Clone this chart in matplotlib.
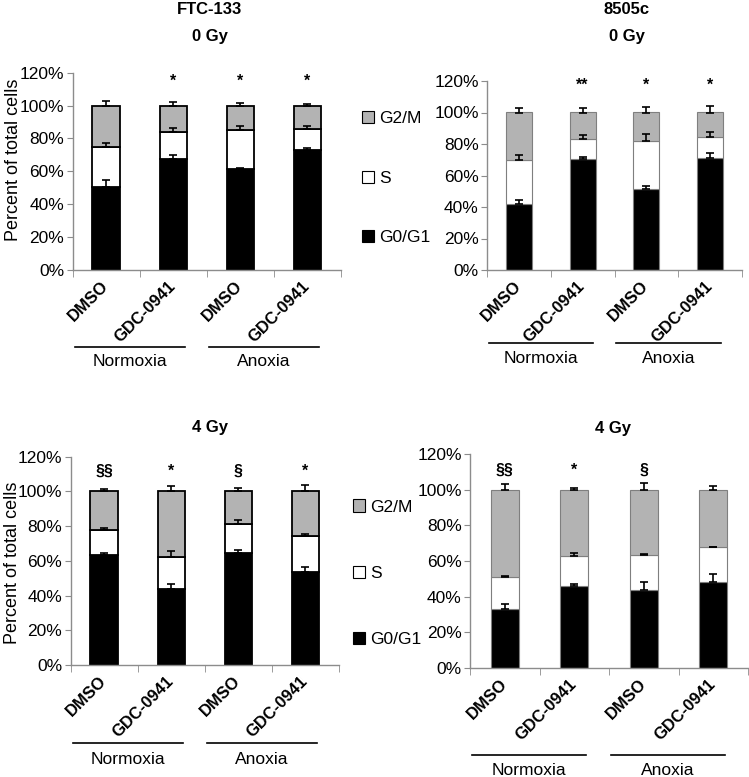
import numpy as np
import matplotlib.pyplot as plt
from matplotlib.patches import Patch
from matplotlib.transforms import blended_transform_factory

plt.rcParams['font.family'] = ['Liberation Sans', 'DejaVu Sans']

# --- data (percent of total cells) ---
conditions = ['DMSO', 'GDC-0941', 'DMSO', 'GDC-0941']
groups = ['Normoxia', 'Anoxia']
phases = ['G0/G1', 'S', 'G2/M']

ftc_0gy_g0g1 = [50.4, 67.4, 61.5, 72.7]
ftc_0gy_s = [24.3, 16.5, 23.8, 12.8]
ftc_0gy_g2m = [25.3, 16.1, 14.7, 14.5]
ftc_0gy_err_g0g1 = [4.5, 2.4, 0.8, 1.2]
ftc_0gy_err_s = [2.3, 2.2, 2.4, 2.2]
ftc_0gy_err_g2m = [2.7, 2.0, 1.7, 1.0]
ftc_0gy_marks = ['', '*', '*', '*']

c8505_0gy_g0g1 = [41.6, 70.5, 51.3, 70.8]
c8505_0gy_s = [28.5, 12.9, 30.9, 13.9]
c8505_0gy_g2m = [29.9, 16.6, 17.8, 15.3]
c8505_0gy_err_g0g1 = [3.0, 1.5, 1.9, 3.4]
c8505_0gy_err_s = [2.8, 2.5, 4.4, 2.7]
c8505_0gy_err_g2m = [3.0, 3.0, 3.7, 4.3]
c8505_0gy_marks = ['', '**', '*', '*']

ftc_4gy_g0g1 = [63.3, 44.0, 64.4, 53.5]
ftc_4gy_s = [14.2, 18.5, 16.9, 20.7]
ftc_4gy_g2m = [22.5, 37.5, 18.7, 25.8]
ftc_4gy_err_g0g1 = [1.0, 2.5, 1.9, 2.9]
ftc_4gy_err_s = [1.3, 3.1, 2.5, 1.4]
ftc_4gy_err_g2m = [1.3, 3.1, 1.9, 3.5]
ftc_4gy_marks = ['§§', '*', '§', '*']

c8505_4gy_g0g1 = [33.2, 45.8, 43.9, 48.0]
c8505_4gy_s = [17.6, 16.9, 19.3, 19.7]
c8505_4gy_g2m = [49.2, 37.3, 36.8, 32.3]
c8505_4gy_err_g0g1 = [2.6, 1.1, 4.3, 4.9]
c8505_4gy_err_s = [1.0, 1.7, 1.0, 0.2]
c8505_4gy_err_g2m = [3.2, 0.8, 3.6, 1.9]
c8505_4gy_marks = ['§§', '*', '§', '']

colors = ['black', 'white', '#b3b3b3']
W, H = 749, 777


def px_axes(left, right, bottom, top):
    # pixel box -> figure fraction
    return [left / W, 1 - bottom / H, (right - left) / W, (bottom - top) / H]


def draw_panel(ax, g0, s, g2, eg0, es, eg2, marks, edge, mark_y, line_y, text_y):
    x = np.arange(len(conditions))
    bottoms = np.zeros(len(x))
    for vals, errs, col in zip([g0, s, g2], [eg0, es, eg2], colors):
        vals = np.array(vals) / 100
        ax.bar(x, vals, 0.41, bottom=bottoms, color=col, edgecolor=edge,
               linewidth=1.3 if edge == 'black' else 0.8, zorder=2)
        tops = bottoms + vals
        ax.errorbar(x, tops, yerr=[np.zeros(len(x)), np.array(errs) / 100],
                    fmt='none', ecolor='black', elinewidth=1.2, capsize=2.6,
                    capthick=1.2, zorder=3)
        bottoms = tops
    for xi, m in zip(x, marks):
        if m:
            ax.text(xi, mark_y, m, ha='center', va='center', fontsize=11.5,
                    fontweight='bold')

    ax.set_xlim(-0.5, len(x) - 0.5)
    ax.set_ylim(0, 1.2)
    ax.set_yticks(np.arange(0, 1.21, 0.2))
    ax.set_yticklabels([f'{int(round(v * 100))}%' for v in np.arange(0, 1.21, 0.2)],
                       fontsize=12.5)
    ax.set_xticks(x)
    ax.set_xticklabels(conditions, rotation=45, ha='right', va='center',
                       rotation_mode='anchor', fontsize=12, fontweight='bold')
    ax.tick_params(axis='x', which='major', length=0, pad=10)
    ax.set_xticks(np.arange(-0.5, len(x), 1.0), minor=True)
    ax.tick_params(axis='x', which='minor', length=5, color='#8c8c8c', direction='out')
    ax.tick_params(axis='y', length=4, color='#8c8c8c', pad=2)
    for sp in ['top', 'right']:
        ax.spines[sp].set_visible(False)
    for sp in ['left', 'bottom']:
        ax.spines[sp].set_color('#8c8c8c')
        ax.spines[sp].set_linewidth(1.0)

    # treatment groups under the tick labels
    trans = blended_transform_factory(ax.transData, ax.transAxes)
    for i, name in enumerate(groups):
        c = 2 * i + 0.5 - 0.15
        ax.plot([c - 0.82, c + 0.82], [line_y, line_y], color='black', lw=1.2,
                transform=trans, clip_on=False)
        ax.text(c, text_y, name, transform=trans, ha='center', va='center',
                fontsize=12.5)


def add_legend(ax, anchor, spacing):
    handles = [Patch(facecolor=colors[i], edgecolor='black', linewidth=0.8)
               for i in [2, 1, 0]]
    ax.legend(handles, [phases[i] for i in [2, 1, 0]], loc='center left',
              bbox_to_anchor=anchor, frameon=False, fontsize=12.5,
              handlelength=0.7, handleheight=0.7, handletextpad=0.3,
              labelspacing=spacing, borderpad=0)


fig = plt.figure(figsize=(W / 100, H / 100), dpi=100)

ax1 = fig.add_axes(px_axes(72.7, 341, 270, 72.7))
draw_panel(ax1, ftc_0gy_g0g1, ftc_0gy_s, ftc_0gy_g2m, ftc_0gy_err_g0g1,
           ftc_0gy_err_s, ftc_0gy_err_g2m, ftc_0gy_marks, 'black', 1.145, -0.39, -0.465)
ax1.set_ylabel('Percent of total cells', fontsize=13)
ax1.yaxis.set_label_coords(-0.19, 0.56)
add_legend(ax1, (1.045, 0.465), 2.55)

ax2 = fig.add_axes(px_axes(487, 742, 270, 81))
draw_panel(ax2, c8505_0gy_g0g1, c8505_0gy_s, c8505_0gy_g2m, c8505_0gy_err_g0g1,
           c8505_0gy_err_s, c8505_0gy_err_g2m, c8505_0gy_marks, '#7f7f7f', 1.17, -0.386, -0.47)

ax3 = fig.add_axes(px_axes(70.7, 339, 665, 456.7))
draw_panel(ax3, ftc_4gy_g0g1, ftc_4gy_s, ftc_4gy_g2m, ftc_4gy_err_g0g1,
           ftc_4gy_err_s, ftc_4gy_err_g2m, ftc_4gy_marks, 'black', 1.117, -0.374, -0.456)
ax3.set_ylabel('Percent of total cells', fontsize=13)
ax3.yaxis.set_label_coords(-0.185, 0.49)
add_legend(ax3, (1.02, 0.44), 2.95)

ax4 = fig.add_axes(px_axes(470, 748, 668, 454))
draw_panel(ax4, c8505_4gy_g0g1, c8505_4gy_s, c8505_4gy_g2m, c8505_4gy_err_g0g1,
           c8505_4gy_err_s, c8505_4gy_err_g2m, c8505_4gy_marks, '#7f7f7f', 1.11, -0.407, -0.477)

# panel headings
head = dict(ha='center', va='center', fontsize=12, fontweight='bold')
fig.text(210 / W, 1 - 9 / H, 'FTC-133', **head)
fig.text(210 / W, 1 - 36 / H, '0 Gy', **head)
fig.text(627 / W, 1 - 9 / H, '8505c', **head)
fig.text(627 / W, 1 - 36 / H, '0 Gy', **head)
fig.text(210 / W, 1 - 427 / H, '4 Gy', **head)
fig.text(613 / W, 1 - 429 / H, '4 Gy', **head)

fig.savefig('out.png', dpi=100)
